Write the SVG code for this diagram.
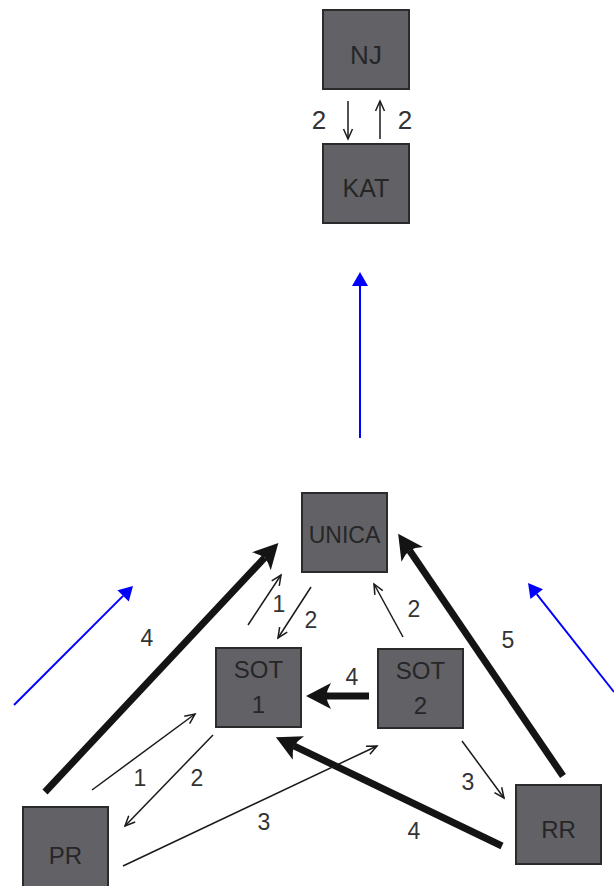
<svg xmlns="http://www.w3.org/2000/svg" width="614" height="886" viewBox="0 0 614 886">
  <style>
    .box rect { fill: #616166; stroke: #2b2b2b; stroke-width: 2; }
    .box text { font-family: "Liberation Sans", Arial, sans-serif; fill: #262626; text-anchor: middle; }
    .lbl { font-family: "Liberation Sans", Arial, sans-serif; fill: #333333; text-anchor: middle; font-size: 23px; }
    .thin { stroke: #1a1a1a; stroke-width: 1.5; fill: none; marker-end: url(#headThin); }
    .thick { stroke: #141414; stroke-width: 7; fill: none; marker-end: url(#headThick); }
    .blue { stroke: #0000ff; stroke-width: 2; fill: none; marker-end: url(#headBlue); }
  </style>
  <defs>
    <marker id="headThin" markerUnits="userSpaceOnUse" markerWidth="20" markerHeight="20" viewBox="-12 -10 14 20" refX="0" refY="0" orient="auto" overflow="visible">
      <path d="M-10,-4.5 L0,0 L-10,4.5" fill="none" stroke="#1a1a1a" stroke-width="1.5"/>
    </marker>
    <marker id="headThick" markerUnits="userSpaceOnUse" markerWidth="40" markerHeight="40" viewBox="-10 -20 40 40" refX="0" refY="0" orient="auto" overflow="visible">
      <path d="M20,0 L-5,-13 Q-1,-6 0,0 Q-1,6 -5,13 Z" fill="#141414"/>
    </marker>
    <marker id="headBlue" markerUnits="userSpaceOnUse" markerWidth="20" markerHeight="20" viewBox="-2 -10 20 20" refX="0" refY="0" orient="auto" overflow="visible">
      <path d="M14,0 L0,-8 L0,8 Z" fill="#0000ff"/>
    </marker>
  </defs>

  <!-- nodes -->
  <g id="NJ" class="box">
    <rect x="323" y="10" width="86" height="79"/>
    <text x="366" y="64" font-size="26">NJ</text>
  </g>
  <g id="KAT" class="box">
    <rect x="323" y="144" width="86" height="79"/>
    <text x="366" y="197" font-size="25">KAT</text>
  </g>
  <g id="UNICA" class="box">
    <rect x="302" y="493" width="85" height="79"/>
    <text x="344.5" y="543" font-size="23">UNICA</text>
  </g>
  <g id="SOT1" class="box">
    <rect x="216" y="648" width="85" height="79"/>
    <text x="258.5" y="678" font-size="24">SOT</text>
    <text x="258.5" y="713" font-size="24">1</text>
  </g>
  <g id="SOT2" class="box">
    <rect x="378" y="649" width="85" height="79"/>
    <text x="420.5" y="679" font-size="24">SOT</text>
    <text x="420.5" y="714" font-size="24">2</text>
  </g>
  <g id="PR" class="box">
    <rect x="23" y="807" width="85" height="82"/>
    <text x="65.5" y="864" font-size="24">PR</text>
  </g>
  <g id="RR" class="box">
    <rect x="516" y="785" width="85" height="79"/>
    <text x="558.5" y="838" font-size="24">RR</text>
  </g>

  <!-- connectors -->
  <g id="connectors">
    <!-- NJ / KAT -->
    <line class="thin" x1="348" y1="101" x2="348" y2="139"/>
    <line class="thin" x1="380" y1="139" x2="380" y2="101"/>

    <!-- blue level arrows -->
    <line class="blue" x1="360" y1="438" x2="360" y2="286"/>
    <line class="blue" x1="14" y1="705" x2="123.1" y2="595.9"/>
    <line class="blue" x1="614" y1="692" x2="536.7" y2="594.1"/>

    <!-- heavy flows -->
    <line class="thick" x1="45" y1="792" x2="264.7" y2="557.6"/>
    <line class="thick" x1="563" y1="776" x2="409.4" y2="550.3"/>
    <line class="thick" x1="502" y1="846" x2="293.9" y2="745.9"/>
    <line class="thick" x1="369" y1="696" x2="326" y2="696"/>

    <!-- light flows -->
    <line class="thin" x1="248" y1="625" x2="281" y2="575"/>
    <line class="thin" x1="311" y1="587" x2="278" y2="638"/>
    <line class="thin" x1="403" y1="637" x2="374" y2="584"/>
    <line class="thin" x1="92" y1="790" x2="195" y2="714"/>
    <line class="thin" x1="213" y1="735" x2="125" y2="826"/>
    <line class="thin" x1="123" y1="866" x2="377" y2="746"/>
    <line class="thin" x1="462" y1="741" x2="504" y2="798"/>
  </g>

  <!-- flow labels -->
  <g id="labels">
    <text class="lbl" x="319" y="129" font-size="26" style="font-size:26px">2</text>
    <text class="lbl" x="405" y="129" style="font-size:26px">2</text>
    <text class="lbl" x="147" y="646">4</text>
    <text class="lbl" x="508" y="648">5</text>
    <text class="lbl" x="414" y="839">4</text>
    <text class="lbl" x="352" y="685">4</text>
    <text class="lbl" x="279" y="612">1</text>
    <text class="lbl" x="311" y="628">2</text>
    <text class="lbl" x="414" y="617">2</text>
    <text class="lbl" x="140" y="786">1</text>
    <text class="lbl" x="197" y="786">2</text>
    <text class="lbl" x="264" y="830">3</text>
    <text class="lbl" x="468" y="790">3</text>
  </g>
</svg>
